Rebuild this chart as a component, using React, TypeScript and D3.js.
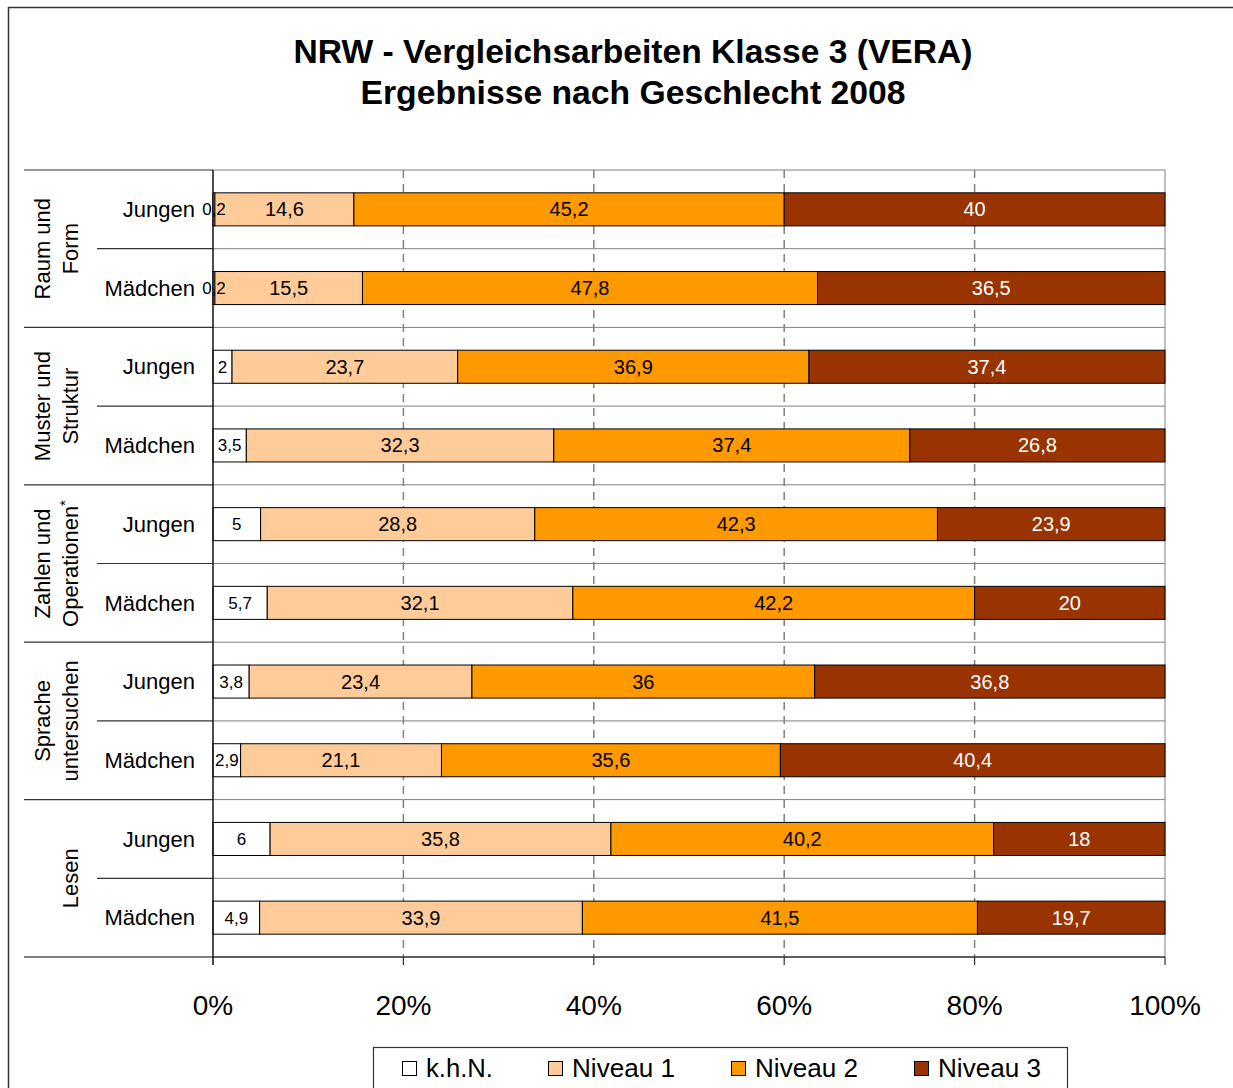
import React from 'react';
import * as d3 from 'd3';

// data (percent shares per row)
const groups = ['Raum und|Form', 'Muster und|Struktur', 'Zahlen und|Operationen*', 'Sprache|untersuchen', 'Lesen'];
const genders = ['Jungen', 'Mädchen'];
const seriesNames = ['k.h.N.', 'Niveau 1', 'Niveau 2', 'Niveau 3'];
const seriesColors = ['#FFFFFF', '#FFCC99', '#FF9900', '#993300'];

const khn = [0.2, 0.2, 2, 3.5, 5, 5.7, 3.8, 2.9, 6, 4.9];
const niveau1 = [14.6, 15.5, 23.7, 32.3, 28.8, 32.1, 23.4, 21.1, 35.8, 33.9];
const niveau2 = [45.2, 47.8, 36.9, 37.4, 42.3, 42.2, 36, 35.6, 40.2, 41.5];
const niveau3 = [40, 36.5, 37.4, 26.8, 23.9, 20, 36.8, 40.4, 18, 19.7];

const xTicks = [0, 0.2, 0.4, 0.6, 0.8, 1];

const fmt = (v: number) => String(v).replace('.', ',');

const FONT = '"Liberation Sans", Arial, sans-serif';

const App = () => {
  const left = 213, right = 1165, top = 170, bottom = 957;

  const rows = groups.flatMap((g, gi) => genders.map((s, si) => ({ key: `${gi}-${si}`, group: gi, label: s })));
  const table = rows.map((r, i) => ({ ...r, values: [khn[i], niveau1[i], niveau2[i], niveau3[i]] }));

  const x = d3.scaleLinear().domain([0, 1]).range([left, right]);
  const y = d3.scaleBand().domain(rows.map(r => r.key)).range([top, bottom]).paddingInner(0.58).paddingOuter(0.29);
  const step = y.step();

  const stackData = table.map(r => {
    const total = d3.sum(r.values);
    const o: any = { key: r.key };
    seriesNames.forEach((n, i) => (o[n] = r.values[i] / total));
    return o;
  });
  const stacked = d3.stack().keys(seriesNames)(stackData);

  const rowTop = (i: number) => top + i * step;

  return (
    <svg width={1233} height={1088} style={{ position: 'absolute', left: 0, top: 0, background: '#fff' }} fontFamily={FONT}>
      {/* outer chart frame */}
      <rect x={8.5} y={7.5} width={1240} height={1100} fill="#fff" stroke="#333" strokeWidth={1.5} />

      {/* title */}
      <text x={633} y={63} textAnchor="middle" fontSize={33} fontWeight="bold" textLength={679} lengthAdjust="spacingAndGlyphs">
        NRW - Vergleichsarbeiten Klasse 3 (VERA)
      </text>
      <text x={633} y={104} textAnchor="middle" fontSize={33} fontWeight="bold" textLength={545} lengthAdjust="spacingAndGlyphs">
        Ergebnisse nach Geschlecht 2008
      </text>

      {/* plot border */}
      <rect x={left} y={top} width={right - left} height={bottom - top} fill="none" stroke="#808080" strokeWidth={1} />

      {/* row separators */}
      {d3.range(1, rows.length).map(i => {
        const yy = rowTop(i);
        const isGroup = i % 2 === 0;
        return (
          <g key={`sep${i}`}>
            <line x1={left} x2={right} y1={yy} y2={yy} stroke="#808080" strokeWidth={1} />
            <line x1={isGroup ? 24 : 97} x2={left} y1={yy} y2={yy} stroke="#333" strokeWidth={1.2} />
          </g>
        );
      })}
      <line x1={24} x2={left} y1={top} y2={top} stroke="#333" strokeWidth={1.2} />

      {/* vertical dashed gridlines */}
      {xTicks.slice(1, -1).map(t => (
        <line key={`g${t}`} x1={x(t)} x2={x(t)} y1={top} y2={bottom} stroke="#808080" strokeWidth={1.5} strokeDasharray="8,6" />
      ))}

      {/* bars */}
      {stacked.map((layer, si) => (
        <g key={layer.key} fill={seriesColors[si]}>
          {layer.map((d, i) => (
            <rect key={i} x={x(d[0])} y={y(rows[i].key)} width={x(d[1]) - x(d[0])} height={y.bandwidth()} stroke="#000" strokeWidth={1} />
          ))}
        </g>
      ))}

      {/* data labels */}
      {stacked.map((layer, si) =>
        layer.map((d, i) => (
          <text
            key={`l${si}-${i}`}
            x={(x(d[0]) + x(d[1])) / 2}
            y={(y(rows[i].key) as number) + y.bandwidth() / 2}
            dy="0.35em"
            textAnchor="middle"
            fontSize={si === 0 ? 17 : 20}
            fill={si === 3 ? '#fff' : '#000'}
          >
            {fmt(table[i].values[si])}
          </text>
        ))
      )}

      {/* axes lines */}
      <line x1={left} x2={left} y1={top} y2={bottom + 8} stroke="#000" strokeWidth={1.2} />
      <line x1={24} x2={right} y1={bottom} y2={bottom} stroke="#000" strokeWidth={1.2} />
      {xTicks.map(t => (
        <g key={`t${t}`}>
          <line x1={x(t)} x2={x(t)} y1={bottom} y2={bottom + 8} stroke="#333" strokeWidth={1.2} />
          <text x={x(t)} y={1015} textAnchor="middle" fontSize={28}>{`${Math.round(t * 100)}%`}</text>
        </g>
      ))}

      {/* category labels */}
      {rows.map(r => (
        <text key={`c${r.key}`} x={195} y={(y(r.key) as number) + y.bandwidth() / 2} dy="0.35em" textAnchor="end" fontSize={22}>
          {r.label}
        </text>
      ))}

      {/* group labels */}
      {groups.map((g, gi) => {
        const cy = top + (gi * 2 + 1) * step;
        const lines = g.split('|');
        const xs = lines.length === 1 ? [70] : [42, 70];
        return (
          <g key={`grp${gi}`}>
            {lines.map((ln, li) => {
              const star = ln.endsWith('*');
              const txt = star ? ln.slice(0, -1) : ln;
              return (
                <text key={li} transform={`translate(${xs[li] + 8},${cy}) rotate(-90)`} textAnchor="middle" fontSize={22}>
                  {txt}
                  {star && <tspan dy={-8} fontSize={15}>*</tspan>}
                </text>
              );
            })}
          </g>
        );
      })}

      {/* legend */}
      <rect x={373.5} y={1047.5} width={694} height={60} fill="#fff" stroke="#333" strokeWidth={1.2} />
      {seriesNames.map((n, i) => {
        const lx = [402, 548, 731, 914][i];
        return (
          <g key={`lg${n}`}>
            <rect x={lx + 0.5} y={1061.5} width={14} height={14} fill={seriesColors[i]} stroke="#000" strokeWidth={1} />
            <text x={lx + 24} y={1077} fontSize={25} textLength={n === 'k.h.N.' ? 67 : 103} lengthAdjust="spacingAndGlyphs">{n}</text>
          </g>
        );
      })}
    </svg>
  );
};

export default App;
